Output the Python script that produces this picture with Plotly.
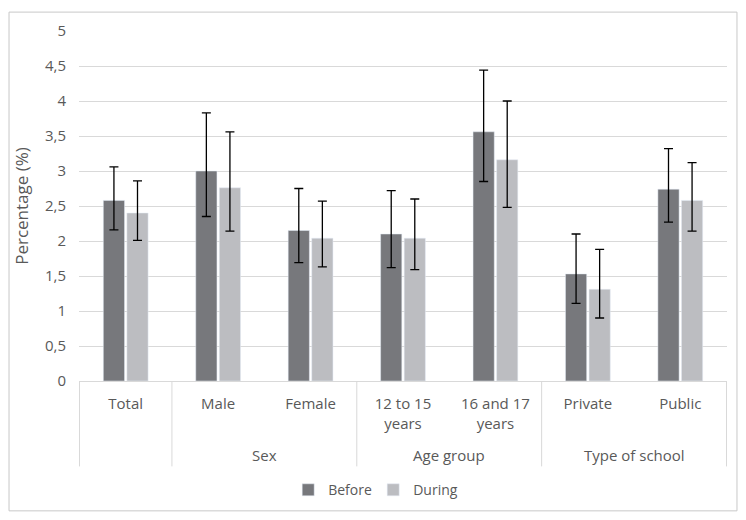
import plotly.graph_objects as go

categories = ["Total", "Male", "Female", "12 to 15<br>years", "16 and 17<br>years", "Private", "Public"]
groups = ["", "Sex", "Sex", "Age group", "Age group", "Type of school", "Type of school"]

before = [2.58, 3.00, 2.15, 2.10, 3.56, 1.53, 2.74]
before_low = [2.16, 2.35, 1.69, 1.62, 2.85, 1.11, 2.27]
before_high = [3.06, 3.83, 2.75, 2.72, 4.44, 2.10, 3.32]

during = [2.40, 2.76, 2.04, 2.04, 3.16, 1.31, 2.58]
during_low = [2.01, 2.14, 1.63, 1.59, 2.48, 0.90, 2.14]
during_high = [2.86, 3.56, 2.57, 2.60, 4.00, 1.88, 3.12]

y_ticks = [0, 0.5, 1, 1.5, 2, 2.5, 3, 3.5, 4, 4.5, 5]

FONT = "Open Sans"
TXT = "#595959"

fig = go.Figure()
fig.add_trace(go.Bar(
    name="Before", x=categories, y=before, marker_color="#77787c",
    error_y=dict(type="data", symmetric=False,
                 array=[h - v for h, v in zip(before_high, before)],
                 arrayminus=[v - l for v, l in zip(before, before_low)],
                 color="black", thickness=1.3, width=4.5),
))
fig.add_trace(go.Bar(
    name="During", x=categories, y=during, marker_color="#bcbdc1",
    error_y=dict(type="data", symmetric=False,
                 array=[h - v for h, v in zip(during_high, during)],
                 arrayminus=[v - l for v, l in zip(during, during_low)],
                 color="black", thickness=1.3, width=4.5),
))

shapes = []
annotations = []
bounds = [-0.5]
spans = []
start = 0
for i in range(1, len(groups) + 1):
    if i == len(groups) or groups[i] != groups[start]:
        spans.append((groups[start], start, i - 1))
        bounds.append(i - 0.5)
        start = i
for b in bounds:
    shapes.append(dict(type="line", xref="x", yref="paper", x0=b, x1=b, y0=0, y1=-0.244,
                       line=dict(color="#d9d9d9", width=1)))
for name, s, e in spans:
    if name:
        annotations.append(dict(text=name, xref="x", yref="paper", x=(s + e) / 2, y=-0.21,
                                showarrow=False, yanchor="middle",
                                font=dict(family=FONT, size=15, color=TXT)))

shapes.append(dict(type="rect", xref="paper", yref="paper", x0=-0.108, x1=1.0154, y0=-0.371, y1=1.054,
                   line=dict(color="#c8c8c8", width=1)))

fig.update_layout(
    width=746, height=520,
    margin=dict(l=71, r=27, t=20, b=147),
    paper_bgcolor="white", plot_bgcolor="white",
    separators=",.",
    barmode="group", bargap=0.49, bargroupgap=0.1,
    font=dict(family=FONT, size=15, color=TXT),
    showlegend=True,
    legend=dict(orientation="h", x=0.454, xanchor="center", y=-0.312, yanchor="middle",
                font=dict(family=FONT, size=14, color=TXT), itemwidth=30, traceorder="normal",
                entrywidth=40, entrywidthmode="pixels"),
    shapes=shapes, annotations=annotations,
)
fig.update_xaxes(showline=True, linecolor="#d9d9d9", linewidth=1, showgrid=False,
                 tickfont=dict(family=FONT, size=15, color=TXT), ticks="", ticklabelstandoff=9)
fig.update_yaxes(range=[0, 5], tickvals=y_ticks, showgrid=True, gridcolor="#d9d9d9", gridwidth=1,
                 zeroline=False, showline=False, ticks="", ticklabelstandoff=12,
                 tickfont=dict(family=FONT, size=15, color=TXT),
                 title=dict(text="Percentage (%)", font=dict(family=FONT, size=17, color=TXT), standoff=12))

fig.write_html("out.html")
